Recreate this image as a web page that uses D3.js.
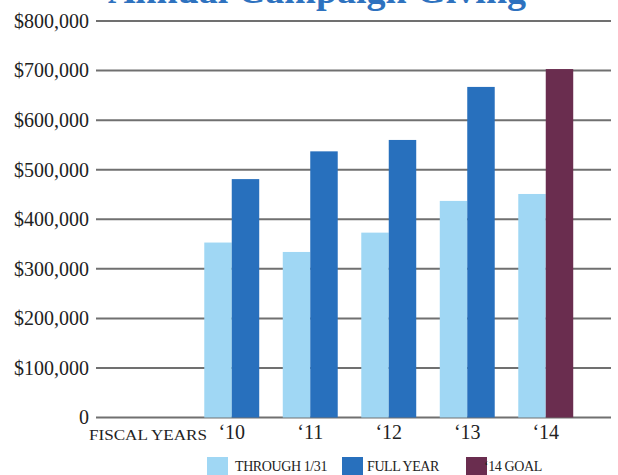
<!DOCTYPE html>
<html>
<head>
<meta charset="utf-8">
<script src="https://cdn.jsdelivr.net/npm/d3@7"></script>
<style>
  html, body { margin: 0; padding: 0; background: #fff; }
  svg { display: block; }
  text { font-family: "Liberation Serif", "DejaVu Serif", serif; fill: #222; }
</style>
</head>
<body>
<svg id="chart" width="618" height="475"></svg>
<script>
const title = "Annual Campaign Giving";
const years = ["\u201810", "\u201811", "\u201812", "\u201813", "\u201814"];
const throughValues = [353000, 334000, 373000, 437000, 451000];
const fullYearValues = [481000, 537000, 560000, 667000, null];
const goalValues = [null, null, null, null, 703000];
const yTicks = [0, 100000, 200000, 300000, 400000, 500000, 600000, 700000, 800000];
const seriesNames = ["THROUGH 1/31", "FULL YEAR", "\u201814 GOAL"];
const seriesColors = ["#a0d7f4", "#2870bd", "#6a2d4f"];
const axisTitle = "FISCAL YEARS";

const svg = d3.select("#chart");

const y = d3.scaleLinear().domain([0, 800000]).range([417.5, 21]);
const x = d3.scaleBand().domain(years).range([192.5, 585]).paddingInner(0.3).paddingOuter(0.15);
const sub = d3.scaleBand().domain([0, 1]).range([0, x.bandwidth()]);

// title (cut off at the top edge, as in the reference)
svg.append("text")
  .attr("x", 317).attr("y", 3)
  .attr("text-anchor", "middle")
  .style("font-size", "38px").style("font-weight", "bold")
  .style("fill", "#2e72bf")
  .text(title);

// gridlines + y labels
const fmt = v => v === 0 ? "0" : "$" + d3.format(",")(v);
const yAxis = d3.axisLeft(y).tickValues(yTicks).tickFormat(fmt).tickSize(0).tickPadding(7);
const gy = svg.append("g").attr("transform", "translate(96,0)").call(yAxis);
gy.select(".domain").remove();
gy.selectAll("text").style("font-size", "20px").style("font-family", "Liberation Serif, serif").attr("fill", "#222");

svg.append("g").selectAll("line").data(yTicks).join("line")
  .attr("x1", 96).attr("x2", 611)
  .attr("y1", d => y(d)).attr("y2", d => y(d))
  .attr("stroke", "#707070").attr("stroke-width", 2);

// bars
const rows = years.map((yr, i) => ({
  yr,
  bars: [
    { k: 0, v: throughValues[i], c: seriesColors[0] },
    fullYearValues[i] != null ? { k: 1, v: fullYearValues[i], c: seriesColors[1] }
                               : { k: 1, v: goalValues[i], c: seriesColors[2] }
  ]
}));

const g = svg.append("g").selectAll("g").data(rows).join("g")
  .attr("transform", d => `translate(${x(d.yr)},0)`);
g.selectAll("rect").data(d => d.bars).join("rect")
  .attr("x", d => sub(d.k)).attr("width", sub.bandwidth())
  .attr("y", d => y(d.v)).attr("height", d => y(0) - y(d.v))
  .attr("fill", d => d.c);

// x axis labels
const xAxis = d3.axisBottom(x).tickSize(0).tickPadding(0);
const gx = svg.append("g").attr("transform", "translate(0,425)").call(xAxis);
gx.select(".domain").remove();
gx.selectAll("text").attr("dy", "0").attr("y", 14)
  .style("font-size", "20px").style("font-family", "Liberation Serif, serif").attr("fill", "#222");

svg.append("text")
  .attr("x", 89).attr("y", 440)
  .attr("textLength", 118).attr("lengthAdjust", "spacingAndGlyphs")
  .style("font-size", "15px")
  .text(axisTitle);

// legend
const legendX = [207, 342, 466];
const legendTextX = [235, 367, 484];
const lg = svg.append("g").selectAll("g").data(seriesNames).join("g");
lg.append("rect")
  .attr("x", (d, i) => legendX[i]).attr("y", 457)
  .attr("width", 21).attr("height", 20)
  .attr("fill", (d, i) => seriesColors[i]);
lg.append("text")
  .attr("x", (d, i) => legendTextX[i]).attr("y", 471)
  .style("font-size", "14px").style("letter-spacing", "-0.4px")
  .text(d => d);
</script>
</body>
</html>
